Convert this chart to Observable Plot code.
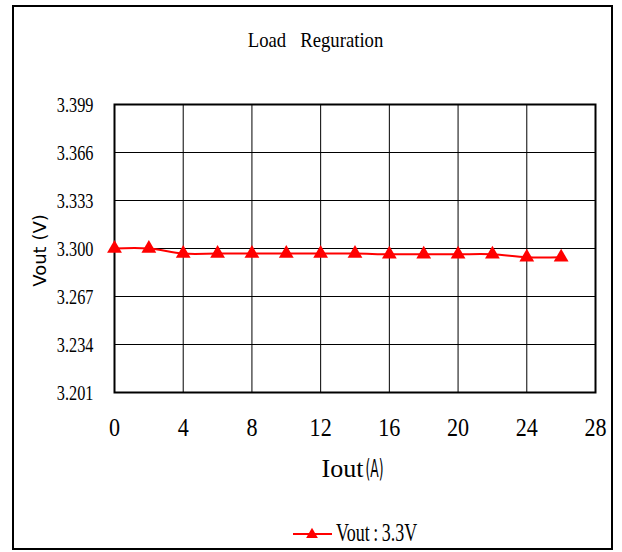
<!DOCTYPE html>
<html><head><meta charset="utf-8">
<script src="https://cdn.jsdelivr.net/npm/d3@7"></script>
<script src="https://cdn.jsdelivr.net/npm/@observablehq/plot@0.6"></script>
<style>
body{margin:0;background:#fff;}
#wrap{position:relative;width:622px;height:552px;overflow:hidden;}
#border{position:absolute;left:12px;top:5px;width:601px;height:545px;border:2px solid #000;box-sizing:border-box;}
#chart{position:absolute;left:0;top:0;}
#legend{position:absolute;left:290px;top:515px;}
</style>
</head><body>
<div id="wrap"><div id="border"></div><div id="chart"></div>
<div id="legend"></div>
</div>
<script>
const iout = [0, 2, 4, 6, 8, 10, 12, 14, 16, 18, 20, 22, 24, 26];
const vout = [3.300, 3.300, 3.2965, 3.2965, 3.2965, 3.2965, 3.2965, 3.2965, 3.296, 3.296, 3.296, 3.296, 3.294, 3.294];
const yTicks = [3.201, 3.234, 3.267, 3.300, 3.333, 3.366, 3.399];
const xTicks = [0, 4, 8, 12, 16, 20, 24, 28];
const title = "Load\u00a0\u00a0\u00a0Reguration";
const xLabel = "Iout(A)";
const yLabel = "Vout\u00a0(V)";
const seriesName = "Vout\u2009:\u20093.3V";

const data = iout.map((x, i) => ({x, y: vout[i]}));
const serif = "'Liberation Serif','Times New Roman',serif";
const sans = "'DejaVu Sans',sans-serif";
const fmtY = d3.format(".3f");

const chart = Plot.plot({
  width: 622, height: 552,
  marginLeft: 114, marginRight: 27, marginTop: 104, marginBottom: 160,
  style: {fontFamily: serif, color: "#000", background: "transparent", overflow: "visible"},
  x: {domain: [0, 28], ticks: xTicks, label: null},
  y: {domain: [3.201, 3.399], ticks: yTicks, tickFormat: fmtY, label: null},
  marks: [
    Plot.gridX(xTicks, {stroke: "#000", strokeOpacity: 1, strokeWidth: 1}),
    Plot.gridY(yTicks, {stroke: "#000", strokeOpacity: 1, strokeWidth: 1}),
    Plot.frame({stroke: "#000", strokeWidth: 2}),
    Plot.axisX(xTicks, {tickSize: 0, tickPadding: 25, fontSize: 26, fontFamily: serif}),
    Plot.axisY(yTicks, {tickSize: 0, tickPadding: 21, fontSize: 22, fontFamily: serif, tickFormat: fmtY}),
    Plot.line(data, {x: "x", y: "y", stroke: "#ff0000", strokeWidth: 2, curve: "catmull-rom"}),
    Plot.dot(data, {x: "x", y: "y", symbol: "triangle", r: 5.5, fill: "#ff0000", stroke: "none"}),
    Plot.text([title], {frameAnchor: "top", lineAnchor: "middle", textAnchor: "middle", dx: -39.5, dy: -65, fontSize: 22, fontFamily: serif}),
    Plot.text([xLabel], {frameAnchor: "bottom", lineAnchor: "middle", textAnchor: "middle", dx: -2.5, dy: 75.7, fontSize: 26, fontFamily: serif}),
    Plot.text([yLabel], {frameAnchor: "left", lineAnchor: "middle", textAnchor: "middle", dx: -74, dy: 2, rotate: -90, fontSize: 18, fontFamily: sans})
  ]
});
document.getElementById("chart").append(chart);

// condense serif glyphs horizontally (reference uses a narrow serif face)
function condense(el, sx) {
  const w = el.getComputedTextLength();
  if (w > 0) {
    el.setAttribute("textLength", (w * sx).toFixed(2));
    el.setAttribute("lengthAdjust", "spacingAndGlyphs");
  }
}
chart.querySelectorAll("text").forEach((el) => {
  const s = el.textContent;
  if (s === title) condense(el, 0.85);
  else if (yTicks.map(fmtY).includes(s)) condense(el, 0.74);
  else if (xTicks.map(String).includes(s)) condense(el, 0.85);
  else if (s === xLabel) {
    const [a, b] = s.split("(");
    el.textContent = a;
    const ts = document.createElementNS("http://www.w3.org/2000/svg", "tspan");
    ts.setAttribute("font-family", sans);
    ts.setAttribute("font-size", "25");
    ts.setAttribute("dx", "2");
    ts.setAttribute("textLength", "18");
    ts.setAttribute("lengthAdjust", "spacingAndGlyphs");
    ts.textContent = "(" + b;
    el.appendChild(ts);
  }
});

// legend
const lg = d3.select("#legend").append("svg").attr("width", 150).attr("height", 35);
lg.append("line").attr("x1", 3).attr("x2", 42).attr("y1", 19).attr("y2", 19).attr("stroke", "#ff0000").attr("stroke-width", 2);
lg.append("path").attr("d", d3.symbol(d3.symbolTriangle, 60)()).attr("transform", "translate(22,19.5)").attr("fill", "#ff0000");
lg.append("text").attr("transform", "translate(46,26) scale(0.72,1)").attr("font-family", serif).attr("font-size", 25).attr("fill", "#000").text(seriesName);
</script>
</body></html>
